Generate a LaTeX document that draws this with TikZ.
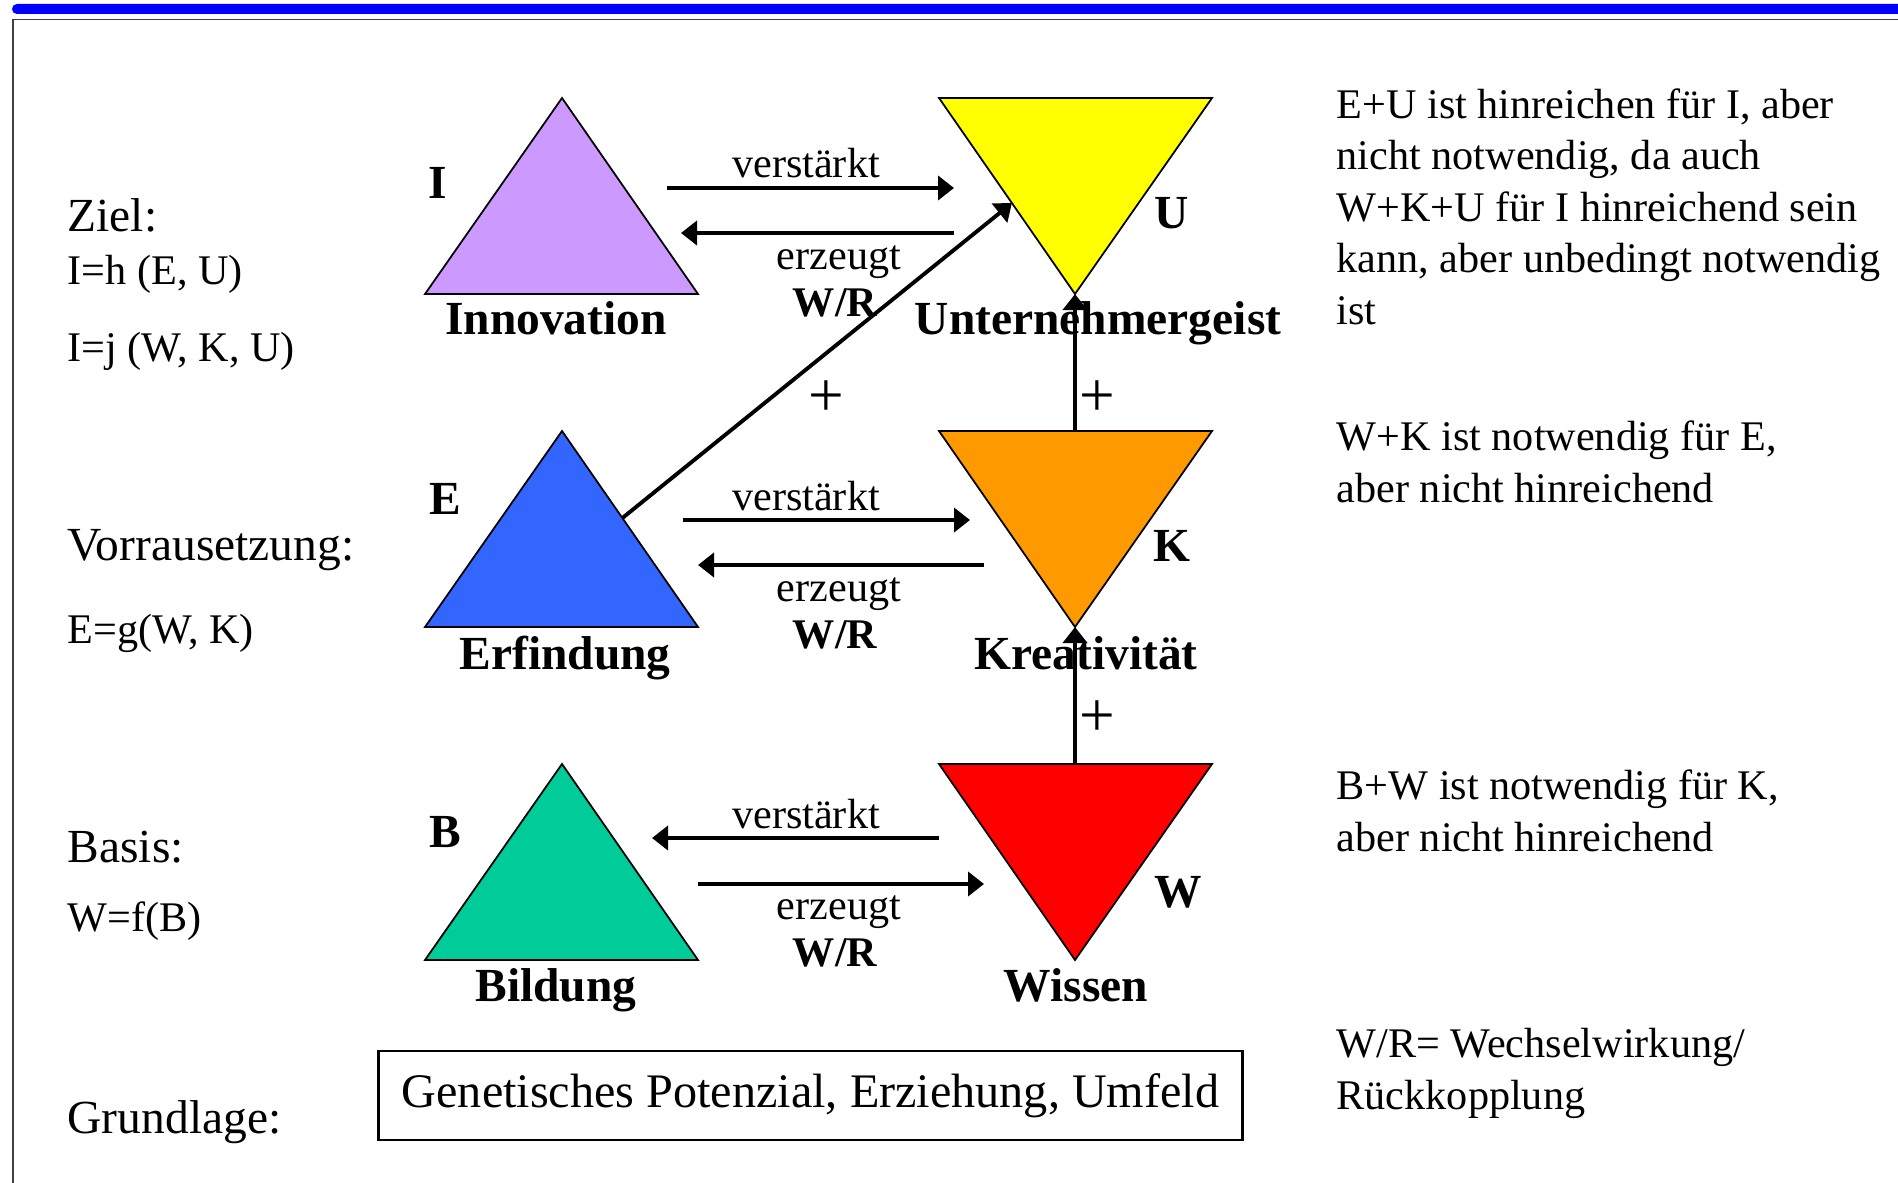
\documentclass[tikz,border=0pt]{standalone}
\usepackage{fontspec}
\setmainfont{Liberation Serif}
\usetikzlibrary{arrows.meta,calc}

\definecolor{lila}{RGB}{204,153,255}
\definecolor{blau}{RGB}{51,102,255}
\definecolor{gruen}{RGB}{0,204,153}
\definecolor{gelb}{RGB}{255,255,0}
\definecolor{orangeton}{RGB}{255,153,0}
\definecolor{rot}{RGB}{255,0,0}

\begin{document}
\begin{tikzpicture}[x=0.01cm, y=-0.01cm,
    tri/.style={draw=black, line width=0.5pt},
    pfeil/.style={line width=1.1pt, -{Triangle[length=0.16cm, width=0.24cm]}},
    txt/.style={font=\fontsize{12}{14.6}\selectfont, inner sep=0pt},
    gross/.style={font=\fontsize{13.5}{16}\selectfont, inner sep=0pt},
    fett/.style={font=\fontsize{13.5}{16}\selectfont\bfseries, inner sep=0pt},
    plus/.style={font=\fontsize{18}{20}\selectfont, inner sep=0pt}]
  \useasboundingbox (0,0) rectangle (1898,1182);
  \fill[blue, rounded corners=1.4pt] (12,4) rectangle (1930,14);
  \draw[black!75, line width=0.5pt] (1930,19.5) -- (12.7,19.5) -- (12.7,1200);

  \foreach \n/\y/\c in {I/98/lila, E/431/blau, B/764/gruen} {
    \draw[tri, fill=\c] (425,\y+196) -- (562,\y) -- (698,\y+196) -- cycle;
    \coordinate (\n-top) at (562,\y);
    \coordinate (\n-br) at (698,\y+196);
  }
  \foreach \n/\y/\c in {U/98/gelb, K/431/orangeton, W/764/rot} {
    \draw[tri, fill=\c] (939,\y) -- (1212,\y) -- (1075,\y+196) -- cycle;
    \coordinate (\n-top) at (1075,\y);
    \coordinate (\n-tl) at (939,\y);
    \coordinate (\n-tip) at (1075,\y+196);
  }

  \node[fett, anchor=base] (I) at (438,199) {I};
  \node[fett, anchor=base] (U) at (1172,228) {U};
  \node[fett, anchor=base] (E) at (445,514) {E};
  \node[fett, anchor=base] (K) at (1172,561) {K};
  \node[fett, anchor=base] (B) at (445,847) {B};
  \node[fett, anchor=base] (W) at (1178,907) {W};

  \node[fett, anchor=base] (innovation) at (556,334) {Innovation};
  \node[fett, anchor=base] (unternehmergeist) at (1098,334) {Unternehmergeist};
  \node[fett, anchor=base] (erfindung) at (565,669) {Erfindung};
  \node[fett, anchor=base] (kreativitaet) at (1086,669) {Kreativität};
  \node[fett, anchor=base] (bildung) at (556,1001) {Bildung};
  \node[fett, anchor=base] (wissen) at (1076,1001) {Wissen};

  \foreach \r/\d in {1/0, 2/332, 3/650} {
    \node[txt, anchor=base] (verst\r) at (806,178+\d) {verstärkt};
    \node[txt, anchor=base] (erz\r) at (839,269+\d) {erzeugt};
    \node[txt, anchor=base, font=\fontsize{12}{14.6}\selectfont\bfseries] (wr\r) at (835,316+\d) {W/R};
  }

  \coordinate (v1-a) at (667,188);  \coordinate (v1-b) at (954,188);
  \coordinate (e1-a) at (954,233);  \coordinate (e1-b) at (681,233);
  \coordinate (v2-a) at (683,520);  \coordinate (v2-b) at (970,520);
  \coordinate (e2-a) at (984,565);  \coordinate (e2-b) at (698,565);
  \coordinate (v3-a) at (939,838);  \coordinate (v3-b) at (652,838);
  \coordinate (e3-a) at (698,884);  \coordinate (e3-b) at (984,884);
  \foreach \r in {1,2,3} {
    \draw[pfeil] (v\r-a) -- (v\r-b);
    \draw[pfeil] (e\r-a) -- (e\r-b);
  }

  \draw[pfeil] (K-top) -- (U-tip);
  \draw[pfeil] (W-top) -- (K-tip);
  \draw[pfeil] ($(E-top)!0.444!(E-br)$) -- ($(U-tl)!0.536!(U-tip)$);

  \node[plus] (plus1) at (826,399) {+};
  \node[plus] (plus2) at (1097,399) {+};
  \node[plus] (plus3) at (1097,719) {+};

  \node[gross, anchor=base west] (ziel) at (67,231) {Ziel:};
  \node[txt, anchor=base west] (fh) at (67,284) {I=h (E, U)};
  \node[txt, anchor=base west] (fj) at (67,361) {I=j (W, K, U)};
  \node[gross, anchor=base west] (vor) at (67,560) {Vorrausetzung:};
  \node[txt, anchor=base west] (fg) at (67,643) {E=g(W, K)};
  \node[gross, anchor=base west] (basis) at (67,862) {Basis:};
  \node[txt, anchor=base west] (ff) at (67,931) {W=f(B)};
  \node[gross, anchor=base west] (grund) at (67,1133) {Grundlage:};

  \node[txt, anchor=base west, align=left] (t1) at (1336,324) {E+U ist hinreichen für I, aber\\ nicht notwendig, da auch\\ W+K+U für I hinreichend sein\\ kann, aber unbedingt notwendig\\ ist};
  \node[txt, anchor=base west, align=left] (t2) at (1336,502) {W+K ist notwendig für E,\\ aber nicht hinreichend};
  \node[txt, anchor=base west, align=left] (t3) at (1336,851) {B+W ist notwendig für K,\\ aber nicht hinreichend};
  \node[txt, anchor=base west, align=left] (t4) at (1336,1109) {W/R= Wechselwirkung/\\ Rückkopplung};

  \node[gross, font=\fontsize{13.7}{16}\selectfont, draw, line width=0.8pt, minimum width=8.63cm, minimum height=0.89cm] (grundlage) at (810.5,1095.5) {Genetisches Potenzial, Erziehung, Umfeld};
\end{tikzpicture}
\end{document}
